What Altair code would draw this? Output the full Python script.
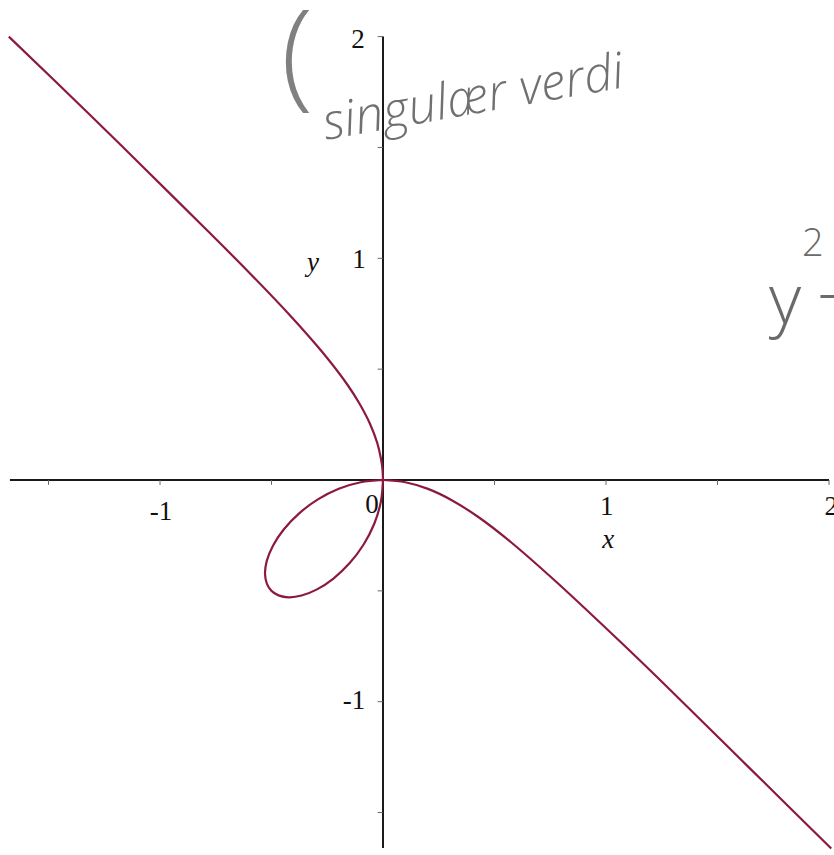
import altair as alt
import pandas as pd

# Implicit curve: upper-left branch, loop and lower-right branch
upper_x = [-1.678, -1.3066, -1.076, -0.7868, -0.6116, -0.4135, -0.2677, -0.1579,
           -0.1064, -0.0585, -0.0259, -0.0100, -0.0025, 0.0]
upper_y = [2.0, 1.6395, 1.4118, 1.1239, 0.9474, 0.7386, 0.5714, 0.4274,
           0.3462, 0.2540, 0.1674, 0.1001, 0.0500, 0.0]

loop_x = [0.0, -0.0999, -0.1984, -0.2921, -0.3759, -0.4444, -0.4934, -0.5212, -0.5291,
          -0.5205, -0.5, -0.4685, -0.4233, -0.3649, -0.2961, -0.2222, -0.1504,
          -0.0876, -0.0397, -0.0100, 0.0]
loop_y = [0.0, -0.0100, -0.0397, -0.0876, -0.1504, -0.2222, -0.2961, -0.3649, -0.4233,
          -0.4685, -0.5, -0.5205, -0.5291, -0.5212, -0.4934, -0.4444, -0.3759,
          -0.2921, -0.1984, -0.0999, 0.0]

lower_x = [0.0, 0.1001, 0.2016, 0.3083, 0.4274, 0.5714, 0.7653, 1.0654, 1.2973, 1.6393, 2.01]
lower_y = [0.0, -0.0100, -0.0400, -0.0910, -0.1670, -0.2785, -0.4490, -0.7310, -0.9560, -1.2950, -1.662]

x_ticks = [-1.5, -1.0, -0.5, 0.5, 1.0, 1.5, 2.0]
y_ticks = [-1.5, -1.0, -0.5, 0.5, 1.0, 1.5, 2.0]
x_tick_labels = ["-1", "0", "1", "2"]
y_tick_labels = ["2", "1", "-1"]

X_DOMAIN = [-1.7175, 2.0224]
Y_DOMAIN = [-1.6915, 2.1651]

rows = []
for name, xs, ys in (("upper", upper_x, upper_y), ("loop", loop_x, loop_y), ("lower", lower_x, lower_y)):
    for i, (a, b) in enumerate(zip(xs, ys)):
        rows.append({"branch": name, "i": i, "x": a, "y": b})
curve_df = pd.DataFrame(rows)

xs = alt.Scale(domain=X_DOMAIN, nice=False, zero=False)
ys = alt.Scale(domain=Y_DOMAIN, nice=False, zero=False)

def X(field="x"):
    return alt.X(f"{field}:Q", scale=xs, axis=None)

def Y(field="y"):
    return alt.Y(f"{field}:Q", scale=ys, axis=None)

# Axes crossing at the origin
axes_df = pd.DataFrame([
    {"x": -1.673, "x2": 2.0, "y": 0.0, "y2": 0.0},
    {"x": 0.0, "x2": 0.0, "y": 2.0, "y2": -1.66},
])
axes = alt.Chart(axes_df).mark_rule(color="#1a1a1a", strokeWidth=2).encode(
    x=X(), x2="x2:Q", y=Y(), y2="y2:Q"
)

tick_rows = [{"x": t, "x2": t, "y": 0.0, "y2": -0.022} for t in x_ticks]
tick_rows += [{"x": 0.0, "x2": -0.024, "y": t, "y2": t} for t in y_ticks]
ticks = alt.Chart(pd.DataFrame(tick_rows)).mark_rule(color="#666666", strokeWidth=1).encode(
    x=X(), x2="x2:Q", y=Y(), y2="y2:Q"
)

curve = alt.Chart(curve_df).mark_line(
    color="#8b1a3d", strokeWidth=2.2, interpolate="catmull-rom"
).encode(
    x=X(), y=Y(), detail="branch:N", order="i:Q"
)

label_df = pd.DataFrame({
    "text": x_tick_labels + y_tick_labels,
    "x": [-0.995, -0.049, 1.003, 2.01, -0.112, -0.108, -0.130],
    "y": [-0.145, -0.113, -0.122, -0.122, 1.985, 0.992, -0.997],
})
labels = alt.Chart(label_df).mark_text(
    font="Liberation Serif", fontSize=27, color="#111111", baseline="middle", align="center"
).encode(x=X(), y=Y(), text="text:N")

title_df = pd.DataFrame({"text": ["x", "y"], "x": [1.01, -0.314], "y": [-0.27, 0.978]})
titles = alt.Chart(title_df).mark_text(
    font="Liberation Serif", fontSize=27, fontStyle="italic", color="#111111",
    baseline="middle", align="center"
).encode(x=X(), y=Y(), text="text:N")

# Handwritten notes on the page
note_df = pd.DataFrame({"text": ["singulær verdi"], "x": [0.405], "y": [1.72]})
note = alt.Chart(note_df).mark_text(
    font="Open Sans", fontSize=50, fontStyle="italic", fontWeight=300, color="#707070",
    angle=350, baseline="middle", align="center"
).encode(x=X(), y=Y(), text="text:N")

paren_df = pd.DataFrame({"text": ["("], "x": [-0.385], "y": [1.90]})
paren = alt.Chart(paren_df).mark_text(
    font="Open Sans", fontSize=118, fontWeight=300, color="#808080",
    baseline="middle", align="center"
).encode(x=X(), y=Y(), text="text:N")

eq_df = pd.DataFrame({"text": ["y", "+"], "x": [1.803, 2.035], "y": [0.80, 0.81]})
eq = alt.Chart(eq_df).mark_text(
    font="Open Sans", fontSize=70, fontWeight=300, color="#6a6a6a",
    baseline="middle", align="center"
).encode(x=X(), y=Y(), text="text:N")

sup_df = pd.DataFrame({"text": ["2"], "x": [1.928], "y": [1.06]})
sup = alt.Chart(sup_df).mark_text(
    font="Open Sans", fontSize=38, fontWeight=300, color="#6a6a6a",
    baseline="middle", align="center"
).encode(x=X(), y=Y(), text="text:N")

chart = alt.layer(axes, ticks, curve, labels, titles, note, paren, eq, sup).properties(
    width=834, height=855, padding=0, autosize=alt.AutoSizeParams(type="none"),
    background="white"
).configure_view(stroke=None)

chart.save("out.html", embed_options={"renderer": "svg", "actions": False})
